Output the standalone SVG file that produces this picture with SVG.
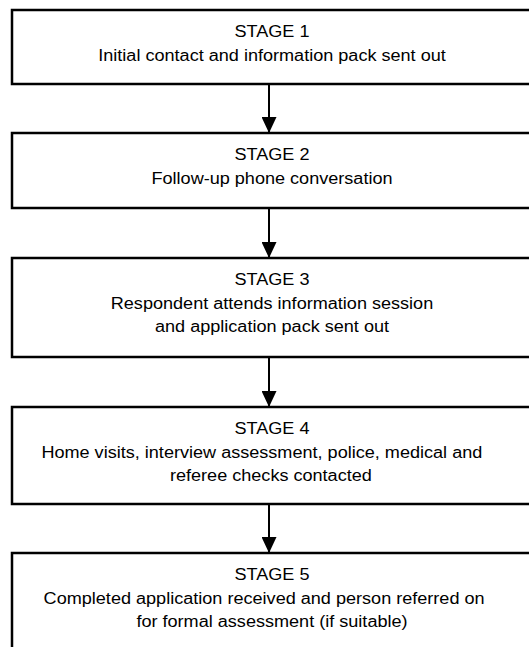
<svg xmlns="http://www.w3.org/2000/svg" width="529" height="647" viewBox="0 0 529 647">
<style>
.box{fill:#fff;stroke:#000;stroke-width:2.5}
.t{font-family:"Liberation Sans",Arial,sans-serif;font-size:16px;fill:#000;text-anchor:middle}
.conn{stroke:#000;stroke-width:2;fill:none}
</style>
<defs>
<marker id="ah" markerUnits="userSpaceOnUse" markerWidth="16" markerHeight="15" viewBox="0 0 16 15" refX="16" refY="7.5" orient="auto">
<path d="M0,0 L16,7.5 L0,15 z" fill="#000"/>
</marker>
</defs>
<rect width="529" height="647" fill="#fff"/>
<g id="connectors">
<line class="conn" x1="269" y1="84" x2="269" y2="133" marker-end="url(#ah)"/>
<line class="conn" x1="269" y1="208" x2="269" y2="258" marker-end="url(#ah)"/>
<line class="conn" x1="269" y1="357" x2="269" y2="407" marker-end="url(#ah)"/>
<line class="conn" x1="269" y1="504" x2="269" y2="553" marker-end="url(#ah)"/>
</g>
<g id="stage1">
<rect class="box" x="12" y="10" width="540" height="74"/>
<g transform="translate(272,0) scale(1.13,1)">
<text class="t" x="0" y="37.5">STAGE 1</text>
<text class="t" x="0" y="61">Initial contact and information pack sent out</text>
</g>
</g>
<g id="stage2">
<rect class="box" x="12" y="133" width="540" height="75"/>
<g transform="translate(272,0) scale(1.13,1)">
<text class="t" x="0" y="160.5">STAGE 2</text>
<text class="t" x="0" y="184">Follow-up phone conversation</text>
</g>
</g>
<g id="stage3">
<rect class="box" x="12" y="258" width="540" height="99"/>
<g transform="translate(272,0) scale(1.13,1)">
<text class="t" x="0" y="285.5">STAGE 3</text>
<text class="t" x="0" y="309">Respondent attends information session</text>
<text class="t" x="0" y="332.5">and application pack sent out</text>
</g>
</g>
<g id="stage4">
<rect class="box" x="12" y="407" width="540" height="97"/>
<g transform="translate(272,0) scale(1.13,1)">
<text class="t" x="0" y="434.5">STAGE 4</text>
<text class="t" x="-9" y="458">Home visits, interview assessment, police, medical and</text>
<text class="t" x="-1" y="481.5">referee checks contacted</text>
</g>
</g>
<g id="stage5">
<rect class="box" x="12" y="553" width="540" height="150"/>
<g transform="translate(272,0) scale(1.13,1)">
<text class="t" x="0" y="580.5">STAGE 5</text>
<text class="t" x="-7" y="604">Completed application received and person referred on</text>
<text class="t" x="0" y="627.5">for formal assessment (if suitable)</text>
</g>
</g>
</svg>
